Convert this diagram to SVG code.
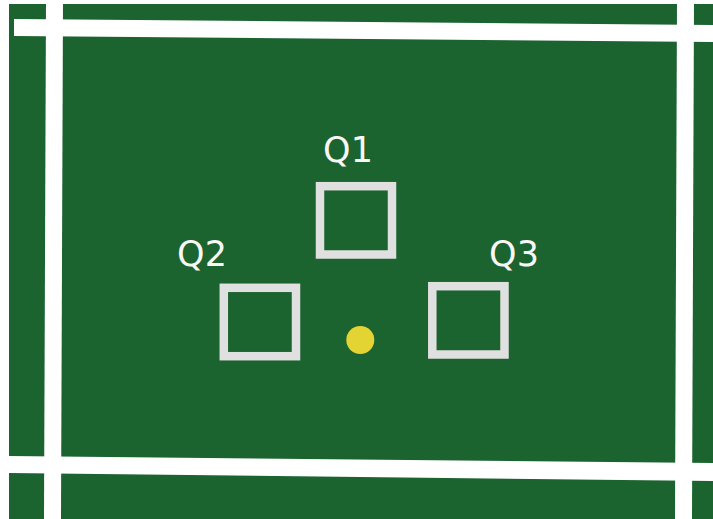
<svg xmlns="http://www.w3.org/2000/svg" width="713" height="519" viewBox="0 0 713 519">
  <style>
    .line { fill: #ffffff; }
    .pad { fill: none; stroke: #e0e0e0; stroke-width: 8.5; }
    .label { font-family: "DejaVu Sans", Verdana, sans-serif; font-size: 35px; fill: #f7f7f7; text-anchor: middle; }
  </style>
  <rect x="0" y="0" width="713" height="519" fill="#ffffff"/>
  <rect id="field" x="9" y="4" width="704" height="515" fill="#1b632f"/>
  <g id="field-lines">
    <polygon class="line" points="46,0 63,0 61,519 44,519"/>
    <polygon class="line" points="677,0 694,0 692,519 675,519"/>
    <polygon class="line" points="14,19 713,25 713,42 14,36"/>
    <polygon class="line" points="9,456 713,463 713,481 9,473"/>
  </g>
  <g id="Q1">
    <rect class="pad" x="320" y="186.2" width="72" height="68.3"/>
    <text class="label" x="348" y="162">Q1</text>
  </g>
  <g id="Q2">
    <rect class="pad" x="223.8" y="287.8" width="72.2" height="68.4"/>
    <text class="label" x="202" y="266">Q2</text>
  </g>
  <g id="Q3">
    <rect class="pad" x="432.3" y="286.2" width="72.2" height="68.3"/>
    <text class="label" x="514" y="266">Q3</text>
  </g>
  <g id="ball">
    <circle cx="360.3" cy="340" r="14" fill="#e3d333"/>
  </g>
</svg>
